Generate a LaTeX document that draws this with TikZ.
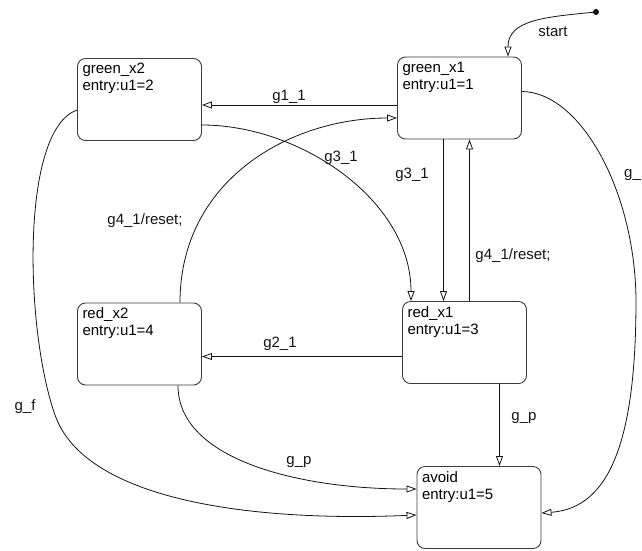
\documentclass[tikz,border=0pt]{standalone}
\usepackage{fontspec}
\setmainfont{Liberation Sans}
\usepackage{tikz}
\usetikzlibrary{arrows.meta}
\definecolor{SFLine}{RGB}{20,20,20}
\definecolor{SFBox}{RGB}{60,60,60}
\newcommand{\stlabel}[2]{\parbox[c][72pt][t]{114pt}{#1\\#2}}

\begin{document}
\begin{tikzpicture}[x=1pt, y=-1pt,
    state/.style={draw=SFBox, line width=0.9pt, rounded corners=8pt, inner sep=5pt,
                  font=\fontsize{15}{17}\selectfont},
    trans/.style={draw=SFLine, line width=0.8pt,
                  -{Triangle[open, length=10pt, width=7pt, fill=white]}},
    guard/.style={font=\fontsize{15}{17}\selectfont, inner sep=0pt, text=SFLine}]
        \useasboundingbox (0,0) rectangle (642,550);
        % States
        \node[state] (gx2) at (139.5,99.5) {\stlabel{green\_x2}{entry:u1=2}};
        \node[state] (gx1) at (459.5,98) {\stlabel{green\_x1}{entry:u1=1}};
        \node[state] (rx1) at (464.5,342.5) {\stlabel{red\_x1}{entry:u1=3}};
        \node[state] (rx2) at (139.5,344) {\stlabel{red\_x2}{entry:u1=4}};
        \node[state] (avoid) at (479,507.5) {\stlabel{avoid}{entry:u1=5}};
        % Default transition
        \node[circle, fill=SFLine, inner sep=0pt, minimum size=6pt] (init) at (596,12) {};
        \draw[trans] (init) .. controls (545,17) and (508,20) .. ([xshift=48.5pt]gx1.north);
        \node[guard] (lstart) at (553,32) {start};
        % Transitions between the green states
        \draw[trans] ([yshift=-7pt]gx1.west) -- ([yshift=-7pt]gx1.west -| gx2.east);
        \node[guard] (lg11) at (289,97) {g1\_1};
        \draw[trans] ([yshift=-25.5pt]gx2.east) .. controls (300,125) and (411,200) .. ([xshift=-53.5pt]rx1.north);
        \node[guard] (lg31a) at (341,158) {g3\_1};
        \draw[trans] ([xshift=-16pt]gx1.south) -- ([xshift=-16pt]gx1.south |- rx1.north);
        \node[guard] (lg31b) at (412,175) {g3\_1};
        % Reset transitions
        \draw[trans] ([xshift=5pt]rx1.north) -- ([xshift=5pt]rx1.north |- gx1.south);
        \node[guard] (lg41a) at (513,256) {g4\_1/reset;};
        \draw[trans] ([xshift=40.5pt]rx2.north) .. controls (180,180) and (290,118) .. ([yshift=-20pt]gx1.west);
        \node[guard] (lg41b) at (145,221) {g4\_1/reset;};
        % Red states
        \draw[trans] ([yshift=-14pt]rx1.west) -- ([yshift=-14pt]rx1.west -| rx2.east);
        \node[guard] (lg21) at (280,344) {g2\_1};
        % Transitions to avoid
        \draw[trans] ([xshift=35pt]rx1.south) -- ([xshift=35pt]rx1.south |- avoid.north);
        \node[guard] (lgpa) at (524,418) {g\_p};
        \draw[trans] ([xshift=38.5pt]rx2.south) .. controls (178,460) and (300,489) .. ([yshift=18.5pt]avoid.west);
        \node[guard] (lgpb) at (299,462) {g\_p};
        \draw[trans] ([yshift=-10.5pt]gx2.west) .. controls (20,130) and (25,330) .. (55,415)
              .. controls (85,500) and (250,522) .. ([yshift=-7.5pt]avoid.west);
        \node[guard] (lgfa) at (25,407) {g\_f};
        \draw[trans] ([yshift=6.5pt]gx1.east) .. controls (580,92) and (635,190) .. (636,300)
              .. controls (636,440) and (610,508) .. ([yshift=-5.5pt]avoid.east);
        \node[guard, anchor=west] (lgfb) at (624,175) {g\_};
      \end{tikzpicture}
\end{document}
